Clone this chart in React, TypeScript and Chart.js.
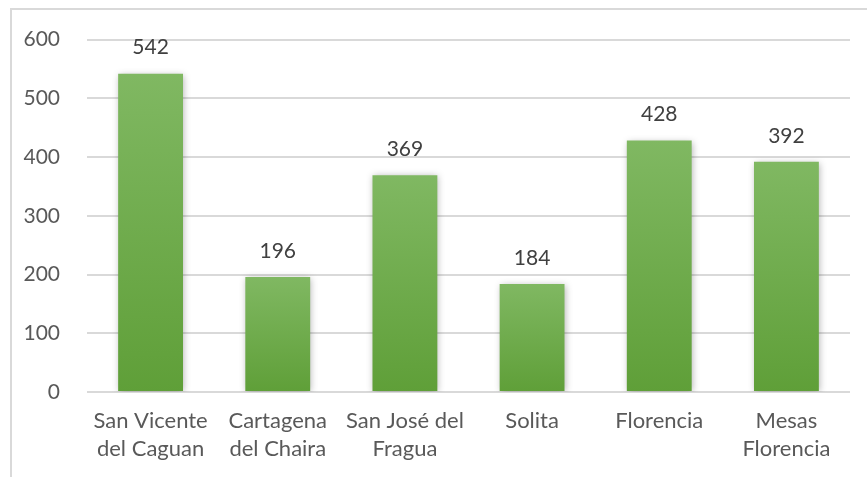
import React, { useEffect, useRef } from "react";
import { Chart, registerables } from "chart.js";

Chart.register(...registerables);

const categories: string[][] = [
  ["San Vicente", "del Caguan"],
  ["Cartagena", "del Chaira"],
  ["San José del", "Fragua"],
  ["Solita"],
  ["Florencia"],
  ["Mesas", "Florencia"],
];
const values: number[] = [542, 196, 369, 184, 428, 392];
const yTicks: number[] = [0, 100, 200, 300, 400, 500, 600];

const FONT = "Lato, 'Open Sans', sans-serif";

const labelPlugin = {
  id: "barLabels",
  afterDatasetsDraw(chart: any) {
    const ctx = chart.ctx;
    const meta = chart.getDatasetMeta(0);
    ctx.save();
    ctx.font = `21px ${FONT}`;
    ctx.fillStyle = "#404040";
    ctx.textAlign = "center";
    ctx.textBaseline = "middle";
    meta.data.forEach((bar: any, i: number) => {
      ctx.fillText(String(values[i]), bar.x, bar.y - 26);
    });
    ctx.restore();
  },
};

const shadowPlugin = {
  id: "barShadow",
  beforeDatasetsDraw(chart: any) {
    const ctx = chart.ctx;
    ctx.save();
    ctx.shadowColor = "rgba(0,0,0,0.3)";
    ctx.shadowBlur = 7;
    ctx.shadowOffsetX = 1;
    ctx.shadowOffsetY = 1;
  },
  afterDatasetsDraw(chart: any) {
    chart.ctx.restore();
  },
};

export default function App() {
  const ref = useRef<HTMLCanvasElement>(null);

  useEffect(() => {
    document.body.style.margin = "0";
    const canvas = ref.current!;
    const chart = new Chart(canvas, {
      type: "bar",
      data: {
        labels: categories,
        datasets: [
          {
            data: values,
            backgroundColor: (c: any) => {
              const ch = c.chart;
              const y = ch.scales && ch.scales.y;
              if (!y || c.raw === undefined) return "#6fad48";
              const top = y.getPixelForValue(c.raw);
              const bottom = y.getPixelForValue(0);
              if (!isFinite(top) || !isFinite(bottom) || top === bottom) return "#6fad48";
              const g = ch.ctx.createLinearGradient(0, top, 0, bottom);
              g.addColorStop(0, "#80b862");
              g.addColorStop(1, "#5f9f38");
              return g;
            },
            borderWidth: 0,
            barPercentage: 0.51,
            categoryPercentage: 1,
          },
        ],
      },
      options: {
        responsive: false,
        animation: false,
        devicePixelRatio: 1,
        layout: { padding: { top: 38, right: 17, left: 0, bottom: 0 } },
        plugins: {
          legend: { display: false },
          tooltip: { enabled: false },
          title: { display: false },
        },
        scales: {
          x: {
            grid: { display: false, drawTicks: false },
            border: { display: false },
            ticks: {
              color: "#595959",
              font: { family: FONT, size: 22, lineHeight: "28px" },
              padding: 15,
              maxRotation: 0,
              autoSkip: false,
            },
            afterFit(scale: any) {
              scale.height = 85;
            },
          },
          y: {
            min: 0,
            max: 600,
            afterBuildTicks(scale: any) {
              scale.ticks = yTicks.map((v) => ({ value: v }));
            },
            grid: { color: "#d9d9d9", lineWidth: 2, drawTicks: false },
            border: { display: false },
            ticks: {
              color: "#595959",
              font: { family: FONT, size: 21 },
              padding: 27,
            },
            afterFit(scale: any) {
              scale.width = 87;
            },
          },
        },
      },
      plugins: [shadowPlugin, labelPlugin],
    });
    return () => chart.destroy();
  }, []);

  return (
    <div style={{ position: "relative", width: 867, height: 477, background: "#fff", overflow: "hidden" }}>
      <div
        style={{
          position: "absolute",
          left: 10,
          top: 8,
          width: 900,
          height: 500,
          borderLeft: "2px solid #d9d9d9",
          borderTop: "2px solid #d9d9d9",
          boxSizing: "border-box",
        }}
      />
      <canvas ref={ref} width={867} height={477} style={{ position: "absolute", left: 0, top: 0, display: "block" }} />
    </div>
  );
}
